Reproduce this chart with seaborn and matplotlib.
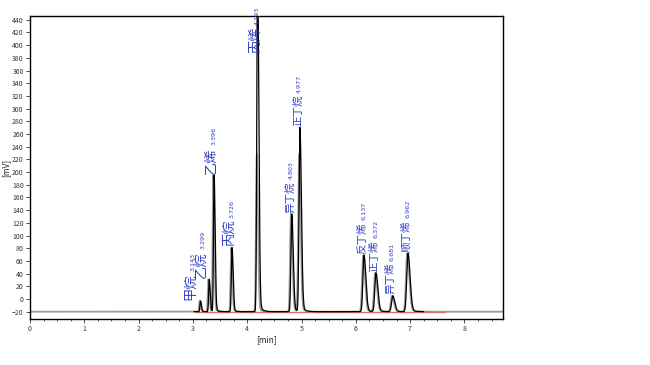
import numpy as np
import pandas as pd
import matplotlib
matplotlib.use("Agg")
import matplotlib.pyplot as plt
import seaborn as sns
from matplotlib.ticker import MultipleLocator

# ---- data ----
names = ['甲烷', '乙烷', '乙烯', '丙烷', '丙烯', '异丁烷', '正丁烷', '反丁烯', '正丁烯', '异丁烯', '顺丁烯']
rt_labels = ['3.143', '3.299', '3.396', '3.726', '4.193', '4.803', '4.977', '6.137', '6.372', '6.681', '6.962']
retention = [3.14, 3.30, 3.39, 3.72, 4.19, 4.82, 4.97, 6.15, 6.37, 6.68, 6.96]
apex_mv = [-3, 31, 195, 81, 520, 134, 270, 69, 41, 5, 72]          # black trace apex (mV)
ref_apex_mv = [-3, 31, 195, 81, 228, 134, 228, 69, 41, 5, 72]      # grey reference trace apex (mV)
baseline_mv = -20
y_ticks = list(range(-20, 441, 20))
x_ticks = list(range(0, 9))

sns.set_style("white")
plt.rcParams['font.family'] = ['Noto Sans CJK SC', 'DejaVu Sans']

fig = plt.figure(figsize=(6.5, 3.65), dpi=100)
ax = fig.add_axes([30/650, 1-319/365, 473/650, 303/365])


def trace(t, rts, apexes, shift=0.0):
    y = np.full_like(t, float(baseline_mv))
    for r, h in zip(rts, apexes):
        r = r + shift
        a = h - baseline_mv
        sl, sr = 0.0032 * r, 0.0055 * r
        s = np.where(t < r, sl, sr)
        y += a * np.exp(-0.5 * ((t - r) / s) ** 2)
        tail = np.where(t > r, np.exp(-(t - r) / (0.012 * r)), 0.0)
        y += 0.04 * a * tail * (1 - np.exp(-((t - r) / sr) ** 2))
    return y


t_full = np.linspace(0, 8.71, 9000)
grey = pd.DataFrame({'t': t_full, 'mV': trace(t_full, retention, ref_apex_mv, shift=-0.015)})
t_black = np.linspace(3.02, 7.25, 9000)
black = pd.DataFrame({'t': t_black, 'mV': trace(t_black, retention, apex_mv)})
red = pd.DataFrame({'t': [3.05, 7.65], 'mV': [baseline_mv, baseline_mv]})

sns.lineplot(data=grey, x='t', y='mV', ax=ax, color='#9a9a9a', lw=1.3, estimator=None)
sns.lineplot(data=red, x='t', y='mV', ax=ax, color='#e07070', lw=1.0, estimator=None)
sns.lineplot(data=black, x='t', y='mV', ax=ax, color='black', lw=0.9, estimator=None)

ax.set_xlim(0, 8.71)
ax.set_ylim(-31.5, 446)
ax.set_xticks(x_ticks)
ax.xaxis.set_minor_locator(MultipleLocator(0.25))
ax.set_yticks(y_ticks)
ax.tick_params(axis='both', which='major', labelsize=5, length=3, width=0.6,
               colors='#333333', direction='out', bottom=True, left=True, pad=1.5)
ax.tick_params(axis='x', which='minor', length=1.5, width=0.5, bottom=True)
ax.set_xlabel('[min]', fontsize=6, labelpad=1)
ax.set_ylabel('[mV]', fontsize=6)
ax.yaxis.set_label_coords(-0.042, 0.5)
for sp in ax.spines.values():
    sp.set_color('black')
    sp.set_linewidth(1.0)

blue = '#3040c8'
num_fs = 4.6
label_cap = 385
dx_pt = {0: -4.5, 1: -3.5}
for i, (nm, lab, r, h) in enumerate(zip(names, rt_labels, retention, apex_mv)):
    yl = min(h, label_cap)
    dx = dx_pt.get(i, 0.8)
    fs = 9.5 if len(nm) == 2 else 7.6
    ax.annotate(nm, xy=(r, yl), xytext=(dx, 1), textcoords='offset points',
                rotation=90, rotation_mode='anchor', ha='left', va='baseline',
                fontsize=fs, color=blue, annotation_clip=False)
    top = 1 + len(nm) * fs + 1.5
    ax.annotate(lab, xy=(r, yl), xytext=(dx, top), textcoords='offset points',
                rotation=90, rotation_mode='anchor', ha='left', va='baseline',
                fontsize=num_fs, color=blue, annotation_clip=False, family='DejaVu Sans')

fig.savefig('out.png', dpi=100, facecolor='white')
